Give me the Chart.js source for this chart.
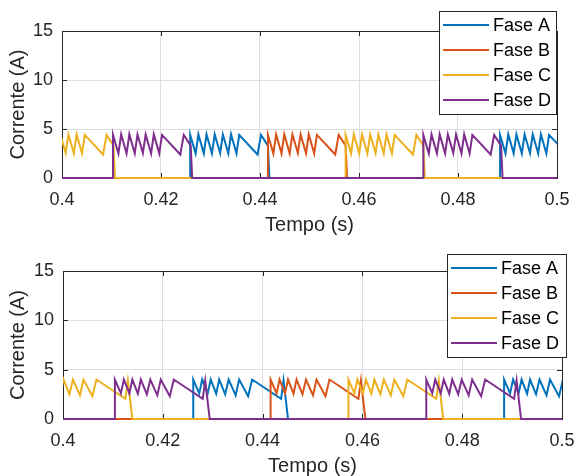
<!DOCTYPE html>
<html>
<head>
<meta charset="utf-8">
<title>Correntes de fase</title>
<script src="https://cdn.jsdelivr.net/npm/chart.js@4/dist/chart.umd.min.js"></script>
<style>
  html, body { margin: 0; padding: 0; background: #fff; }
  #wrap { position: relative; width: 574px; height: 476px; }
  #wrap canvas { position: absolute; left: 0; }
</style>
</head>
<body>
<div id="wrap">
  <canvas id="plotTop" width="574" height="238" style="top:0"></canvas>
  <canvas id="plotBottom" width="574" height="238" style="top:238px"></canvas>
</div>
<script>
const phaseNames = ['Fase A', 'Fase B', 'Fase C', 'Fase D'];
const phaseColors = ['#0072BD', '#D95319', '#EDB120', '#7E2F8E'];

const xTicks = [0.4, 0.42, 0.44, 0.46, 0.48, 0.5];
const xTickLabels = ['0.4', '0.42', '0.44', '0.46', '0.48', '0.5'];
const yTicks = [0, 5, 10, 15];
const yTickLabels = ['0', '5', '10', '15'];

// turn-on instants (s) of phases A, B, C, D
const onsetsTop = [[0.4259, 0.4885], [0.4416], [0.3947, 0.4573], [0.4103, 0.4730]];
const onsetsBottom = [[0.4261, 0.4884], [0.4416], [0.3949, 0.4572], [0.4104, 0.4728]];

// current of one conduction period: time after turn-on (ms) and current (A)
const pulseTopMs = [0, 1.1, 1.65, 2.75, 3.3, 4.4, 4.95, 6.05, 6.6, 7.7, 8.25, 9.35, 9.9, 13.6, 14.3, 15.7, 16.0];
const pulseTopA  = [4.4, 2.5, 4.45, 2.5, 4.45, 2.5, 4.45, 2.55, 4.45, 2.5, 4.45, 2.5, 4.4, 2.4, 4.4, 3.3, 0];

const pulseBottomMs = [0, 1.2, 1.8, 2.9, 3.5, 4.6, 5.2, 6.4, 7.1, 8.5, 9.2, 11.0, 11.8, 17.6, 18.1, 19.0];
const pulseBottomA  = [4.0, 2.6, 4.0, 2.6, 4.0, 2.55, 4.0, 2.5, 4.0, 2.4, 4.0, 2.3, 4.0, 2.05, 3.9, 0];

const FONT = "'Liberation Sans', Arial, sans-serif";
const TEXT = '#262626';

function buildSeries(onsets, pulseMs, pulseA) {
  const pts = [{ x: 0.37, y: 0 }];
  onsets.forEach(t0 => {
    pts.push({ x: t0, y: 0 });
    pulseMs.forEach((ms, k) => pts.push({ x: t0 + ms / 1000, y: pulseA[k] }));
  });
  pts.push({ x: 0.53, y: 0 });
  return pts;
}

// axes box with inward tick marks on all four sides
const framePlugin = {
  id: 'frame',
  beforeDatasetsDraw(chart) {
    const { ctx, chartArea: a, scales: { x, y } } = chart;
    ctx.save();
    ctx.strokeStyle = TEXT;
    ctx.lineWidth = 1;
    ctx.beginPath();
    xTicks.forEach(v => {
      const px = Math.round(x.getPixelForValue(v)) + 0.5;
      ctx.moveTo(px, a.bottom); ctx.lineTo(px, a.bottom - 5);
      ctx.moveTo(px, a.top); ctx.lineTo(px, a.top + 5);
    });
    yTicks.forEach(v => {
      const py = Math.round(y.getPixelForValue(v)) + 0.5;
      ctx.moveTo(a.left, py); ctx.lineTo(a.left + 5, py);
      ctx.moveTo(a.right, py); ctx.lineTo(a.right - 5, py);
    });
    ctx.stroke();
    ctx.strokeRect(Math.round(a.left) + 0.5, Math.round(a.top) + 0.5, Math.round(a.width), Math.round(a.height));
    ctx.restore();
  }
};

// boxed legend at a fixed place on the canvas
const boxLegendPlugin = {
  id: 'boxLegend',
  afterDraw(chart, args, opts) {
    const { ctx } = chart;
    const b = opts.box;
    ctx.save();
    ctx.fillStyle = '#fff';
    ctx.fillRect(b.x, b.y, b.w, b.h);
    ctx.strokeStyle = TEXT;
    ctx.lineWidth = 1;
    ctx.strokeRect(b.x + 0.5, b.y + 0.5, b.w, b.h);
    ctx.font = '18px ' + FONT;
    ctx.textBaseline = 'middle';
    ctx.fillStyle = '#000';
    chart.data.datasets.forEach((ds, i) => {
      const cy = b.y + opts.firstRow + i * opts.rowStep;
      ctx.strokeStyle = ds.borderColor;
      ctx.lineWidth = 2;
      ctx.beginPath();
      ctx.moveTo(b.x + 4, cy); ctx.lineTo(b.x + 50, cy);
      ctx.stroke();
      ctx.fillText(ds.label, b.x + 54, cy + 1);
    });
    ctx.restore();
  }
};

function makeChart(id, onsets, pulseMs, pulseA, geo) {
  const datasets = phaseNames.map((name, i) => ({
    label: name,
    data: buildSeries(onsets[i], pulseMs, pulseA),
    borderColor: phaseColors[i],
    borderWidth: 2,
    pointRadius: 0,
    tension: 0,
    fill: false,
    order: 3 - i,
    clip: { left: 0, top: 0, right: 0, bottom: 2 }
  }));

  return new Chart(document.getElementById(id), {
    type: 'line',
    data: { datasets },
    options: {
      responsive: false,
      animation: false,
      events: [],
      layout: { padding: { left: 0, right: geo.right, top: geo.top, bottom: 0 } },
      plugins: {
        legend: { display: false },
        tooltip: { enabled: false },
        boxLegend: { box: geo.legend, firstRow: 14, rowStep: 25 }
      },
      scales: {
        x: {
          type: 'linear',
          min: 0.4,
          max: 0.5,
          afterBuildTicks: s => { s.ticks = xTicks.map(v => ({ value: v })); },
          afterFit: s => { s.height = geo.xAxisH; s.paddingLeft = 0; s.paddingRight = 0; },
          ticks: {
            autoSkip: false,
            maxRotation: 0,
            padding: 11,
            color: TEXT,
            font: { family: FONT, size: 18 },
            callback: (v, i) => xTickLabels[i]
          },
          grid: { color: '#dedede', drawTicks: false },
          border: { display: false },
          title: {
            display: true,
            text: 'Tempo (s)',
            color: TEXT,
            font: { family: FONT, size: 20, lineHeight: 1 },
            padding: { top: 0, bottom: geo.xTitlePad }
          }
        },
        y: {
          min: 0,
          max: 15,
          afterBuildTicks: s => { s.ticks = yTicks.map(v => ({ value: v })); },
          afterFit: s => { s.width = geo.yAxisW; s.paddingTop = 0; s.paddingBottom = 0; },
          ticks: {
            padding: 9,
            color: TEXT,
            font: { family: FONT, size: 18 },
            callback: (v, i) => yTickLabels[i]
          },
          grid: { color: '#dedede', drawTicks: false },
          border: { display: false },
          title: {
            display: true,
            text: 'Corrente (A)',
            color: TEXT,
            font: { family: FONT, size: 20, lineHeight: 1 },
            padding: { top: 8, bottom: 0 }
          }
        }
      }
    },
    plugins: [framePlugin, boxLegendPlugin]
  });
}

makeChart('plotTop', onsetsTop, pulseTopMs, pulseTopA, {
  top: 31, right: 17, xAxisH: 60, yAxisW: 62, xTitlePad: 3,
  legend: { x: 439, y: 11, w: 117, h: 103 }
});

makeChart('plotBottom', onsetsBottom, pulseBottomMs, pulseBottomA, {
  top: 33, right: 12, xAxisH: 57, yAxisW: 63, xTitlePad: 0,
  legend: { x: 447, y: 16, w: 119, h: 103 }
});
</script>
</body>
</html>
